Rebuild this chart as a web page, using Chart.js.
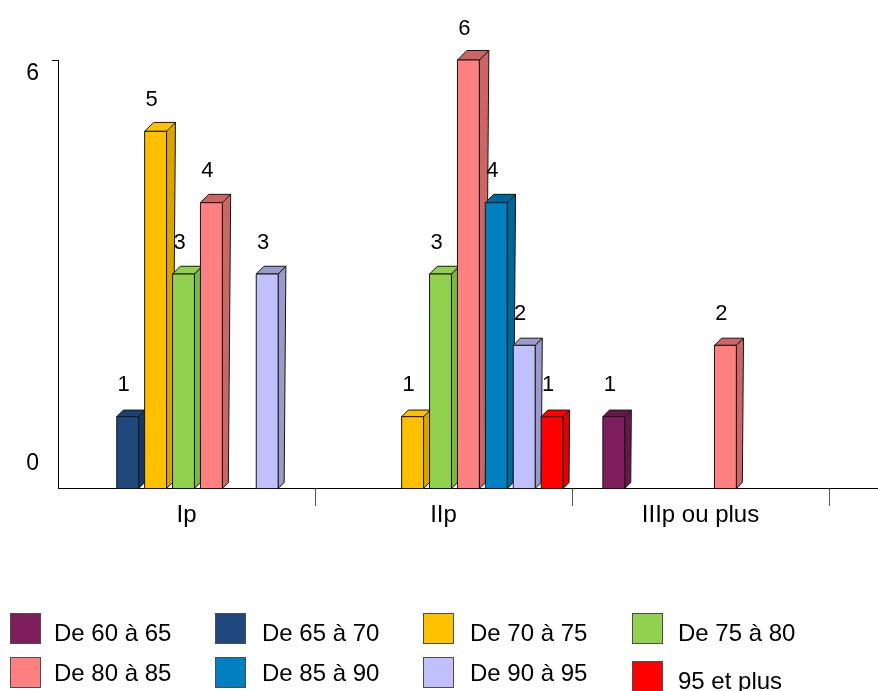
<!DOCTYPE html>
<html>
<head>
<meta charset="utf-8">
<script src="https://cdn.jsdelivr.net/npm/chart.js@4"></script>
<style>
  html, body { margin: 0; padding: 0; background: #fff; }
  #cadre { position: relative; width: 878px; height: 691px; overflow: hidden; }
  #graphique { position: absolute; left: 0; top: 0; }
  .item { position: absolute; font-family: "Liberation Sans", Arial, sans-serif; font-size: 24px; color: #000; }
  .item .carre { position: absolute; left: 0; top: 0; width: 29px; height: 29px; border: 1px solid #4d4d4d; }
  .item .texte { position: absolute; top: 0; line-height: 31px; white-space: nowrap; }
  .ligne1 .texte { top: 4px; }
  .dernier .carre { top: 4px; }
  .dernier .texte { top: 8px; }
</style>
</head>
<body>
<div id="cadre">
  <canvas id="graphique" width="878" height="691"></canvas>
</div>
<script>
const categories = ['Ip', 'IIp', 'IIIp ou plus'];
const series = ['De 60 à 65', 'De 65 à 70', 'De 70 à 75', 'De 75 à 80', 'De 80 à 85', 'De 85 à 90', 'De 90 à 95', '95 et plus'];

const de60a65 = [0, 0, 1];
const de65a70 = [1, 0, 0];
const de70a75 = [5, 1, 0];
const de75a80 = [3, 3, 0];
const de80a85 = [4, 6, 2];
const de85a90 = [0, 4, 0];
const de90a95 = [3, 2, 0];
const plus95 = [0, 1, 0];

const yTicks = [0, 6];

const valeurs = [de60a65, de65a70, de70a75, de75a80, de80a85, de85a90, de90a95, plus95];

const couleurs = ['#7E1E5C', '#1F497D', '#FFC000', '#92D050', '#FF8080', '#0080C0', '#C0C0FF', '#FF0000'];
const couleursCote = ['#651849', '#173A64', '#D9A400', '#7AB840', '#CC6666', '#00669A', '#9A9ACC', '#E00000'];
const couleursDessus = ['#651849', '#1B4170', '#FFC000', '#92D050', '#CC6666', '#00669A', '#9A9ACC', '#FF0000'];

const police = '"Liberation Sans", Arial, sans-serif';
Chart.defaults.font.family = police;
Chart.defaults.color = '#000';

// barres en relief : face avant, cote et dessus, a partir des elements de Chart.js
const barres3D = {
  id: 'barres3D',
  afterDatasetsDraw(chart) {
    const ctx = chart.ctx;
    const echelle = chart.scales.y;
    const prof = (y) => 6 + 3.5 * (echelle.bottom - y) / (echelle.bottom - echelle.top);
    const barres = [];
    chart.data.datasets.forEach((ds, i) => {
      if (i === 0) return; // colonne vide
      chart.getDatasetMeta(i).data.forEach((el, j) => {
        if (!ds.data[j]) return;
        barres.push({ el, s: i - 1, j });
      });
    });
    barres.sort((a, b) => a.el.x - b.el.x);

    ctx.save();
    ctx.lineWidth = 1;
    ctx.strokeStyle = '#151515';
    ctx.lineJoin = 'round';
    barres.forEach(({ el, s }) => {
      const gauche = el.x - el.width / 2;
      const dBas = prof(el.base);
      const avantDroite = el.x + el.width / 2 - dBas;
      const haut = el.y;
      const bas = el.base + 1;
      const dHaut = prof(haut);

      // cote
      ctx.beginPath();
      ctx.moveTo(avantDroite, bas);
      ctx.lineTo(avantDroite, haut);
      ctx.lineTo(avantDroite + dHaut, haut - dHaut);
      ctx.lineTo(avantDroite + dBas, bas - dBas);
      ctx.closePath();
      ctx.fillStyle = couleursCote[s];
      ctx.fill();
      ctx.stroke();

      // dessus
      ctx.beginPath();
      ctx.moveTo(gauche, haut);
      ctx.lineTo(avantDroite, haut);
      ctx.lineTo(avantDroite + dHaut, haut - dHaut);
      ctx.lineTo(gauche + dHaut, haut - dHaut);
      ctx.closePath();
      ctx.fillStyle = couleursDessus[s];
      ctx.fill();
      ctx.stroke();

      // face avant
      ctx.fillStyle = couleurs[s];
      ctx.fillRect(gauche, haut, avantDroite - gauche, bas - haut);
      ctx.strokeRect(gauche, haut, avantDroite - gauche, bas - haut);
    });

    // etiquettes de valeurs
    ctx.fillStyle = '#000';
    ctx.font = '22px ' + police;
    ctx.textAlign = 'center';
    ctx.textBaseline = 'middle';
    barres.forEach(({ el, s, j }) => {
      ctx.fillText(String(valeurs[s][j]), el.x - 7, el.y - 31.5);
    });
    ctx.restore();
  }
};

// prolongement de l'axe horizontal jusqu'au bord
const axeProlonge = {
  id: 'axeProlonge',
  afterDraw(chart) {
    const ctx = chart.ctx;
    const y = Math.round(chart.chartArea.bottom) + 0.5;
    ctx.save();
    ctx.strokeStyle = '#000';
    ctx.lineWidth = 1;
    ctx.beginPath();
    ctx.moveTo(chart.chartArea.right, y);
    ctx.lineTo(chart.width, y);
    ctx.stroke();
    ctx.restore();
  }
};

const jeux = [{ label: '', data: categories.map(() => null) }].concat(
  series.map((nom, i) => ({
    label: nom,
    data: valeurs[i],
    backgroundColor: 'rgba(0,0,0,0)',
    borderWidth: 0
  }))
);

new Chart(document.getElementById('graphique'), {
  type: 'bar',
  data: { labels: categories, datasets: jeux },
  options: {
    responsive: false,
    animation: false,
    categoryPercentage: 0.977,
    barPercentage: 1,
    layout: { padding: { left: 0, right: 49, top: 60, bottom: 163 } },
    plugins: {
      legend: { display: false },
      tooltip: { enabled: false }
    },
    scales: {
      x: {
        offset: true,
        grid: {
          offset: true,
          drawOnChartArea: false,
          tickLength: 18,
          tickColor: (c) => c.index === 0 ? 'rgba(0,0,0,0)' : '#555'
        },
        border: { display: true, color: '#000' },
        ticks: { padding: -5, color: '#000', font: { size: 24 } },
        afterFit: (s) => { s.height = 40; }
      },
      y: {
        min: 0,
        max: 6,
        ticks: { display: false, stepSize: 6 },
        grid: {
          drawOnChartArea: false,
          tickLength: 6,
          tickColor: (c) => c.tick && c.tick.value === 6 ? '#000' : 'rgba(0,0,0,0)'
        },
        border: { display: true, color: '#000' },
        afterFit: (s) => { s.width = 6; }
      },
      y2: {
        position: 'left',
        weight: 1,
        min: -0.369,
        max: 6.215,
        afterBuildTicks: (s) => { s.ticks = yTicks.map((v) => ({ value: v })); },
        grid: { display: false, drawTicks: false },
        border: { display: false },
        ticks: { color: '#000', font: { size: 23 }, padding: 13 },
        afterFit: (s) => { s.width = 52; }
      }
    }
  },
  plugins: [barres3D, axeProlonge]
});

// legende
const colonnes = [10, 215, 423, 632];
const decalTexte = [44, 47, 47, 46];
const lignes = [613, 657];
const cadre = document.getElementById('cadre');
series.forEach((nom, i) => {
  const col = i % 4;
  const lig = Math.floor(i / 4);
  const item = document.createElement('div');
  item.className = 'item ligne' + (lig + 1) + (i === series.length - 1 ? ' dernier' : '');
  item.style.left = colonnes[col] + 'px';
  item.style.top = lignes[lig] + 'px';
  const carre = document.createElement('div');
  carre.className = 'carre';
  carre.style.background = couleurs[i];
  const texte = document.createElement('span');
  texte.className = 'texte';
  texte.style.left = decalTexte[col] + 'px';
  texte.textContent = nom;
  item.appendChild(carre);
  item.appendChild(texte);
  cadre.appendChild(item);
});
</script>
</body>
</html>
